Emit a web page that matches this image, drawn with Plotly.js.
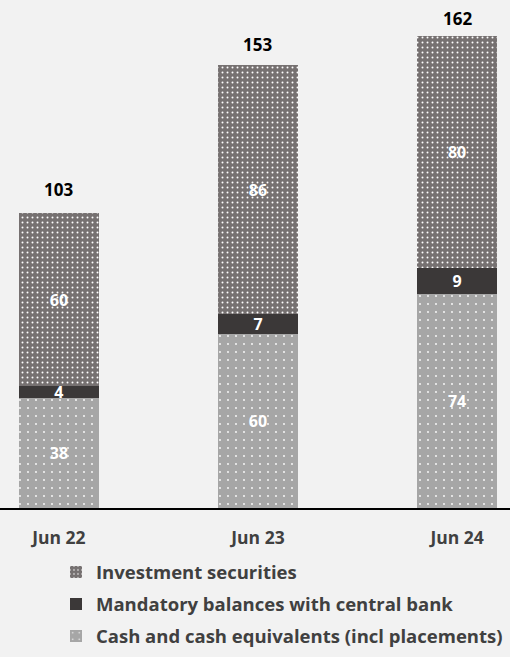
<!DOCTYPE html>
<html>
<head>
<meta charset="utf-8">
<script src="https://cdn.plot.ly/plotly-3.0.1.min.js"></script>
<style>html,body{margin:0;padding:0;background:#f2f2f2;}#chart{width:510px;height:657px;}</style>
</head>
<body>
<div id="chart"></div>
<script>
const categories = ["Jun 22", "Jun 23", "Jun 24"];
const cash = [38, 60, 74];
const mandatory = [4, 7, 9];
const investment = [60, 86, 80];
const totals = [103, 153, 162];
const seriesNames = ["Cash and cash equivalents (incl placements)", "Mandatory balances with central bank", "Investment securities"];

const FONT = "'Open Sans', sans-serif";
const labelFont = {family: FONT, size: 16, color: "#ffffff", weight: "bold"};

function barTrace(name, vals, color, pattern, rank, group) {
  const t = {
    type: "bar", name: name, x: categories, y: vals,
    text: vals.map(String), textposition: "inside", insidetextanchor: "middle",
    textangle: 0, constraintext: "none", cliponaxis: false,
    textfont: labelFont, legendrank: rank, legendgroup: group,
    marker: {color: color, line: {width: 0}},
    width: 0.4, hoverinfo: "skip"
  };
  if (pattern) t.marker.pattern = pattern;
  return t;
}

const traces = [
  barTrace(seriesNames[0], cash, "#a6a6a6", {shape: ".", fgcolor: "#ffffff", bgcolor: "#a6a6a6", size: 8, solidity: 0.04}, 3, "c"),
  barTrace(seriesNames[1], mandatory, "#3b3838", null, 2, "b"),
  barTrace(seriesNames[2], investment, "#767171", {shape: ".", fgcolor: "#ffffff", bgcolor: "#767171", size: 5, solidity: 0.12}, 1, "a")
];

const annotations = categories.map((c, i) => ({
  x: c, y: totals[i], xref: "x", yref: "y", text: String(totals[i]),
  showarrow: false, yanchor: "bottom", yshift: 7,
  font: {family: FONT, size: 17, color: "#000000", weight: "bold"}
}));

const layout = {
  width: 510, height: 657,
  margin: {l: 0, r: 0, t: 20, b: 149},
  paper_bgcolor: "#f2f2f2", plot_bgcolor: "#f2f2f2",
  barmode: "stack",
  showlegend: true,
  legend: {
    orientation: "v", x: 56/510, xanchor: "left", y: -0.093, yanchor: "top",
    traceorder: "grouped", tracegroupgap: 5,
    font: {family: FONT, size: 18.5, color: "#404040", weight: "bold"},
    bgcolor: "rgba(0,0,0,0)"
  },
  xaxis: {
    type: "category", range: [-0.296, 2.266],
    showline: true, linecolor: "#000000", linewidth: 1.5,
    showgrid: false, zeroline: false, ticks: "",
    ticklabelstandoff: 13,
    tickfont: {family: FONT, size: 17.5, color: "#404040", weight: "bold"}
  },
  yaxis: {
    range: [0, 168.6], visible: false, showgrid: false, zeroline: false
  },
  annotations: annotations
};

Plotly.newPlot("chart", traces, layout, {displayModeBar: false, staticPlot: true});
</script>
</body>
</html>
